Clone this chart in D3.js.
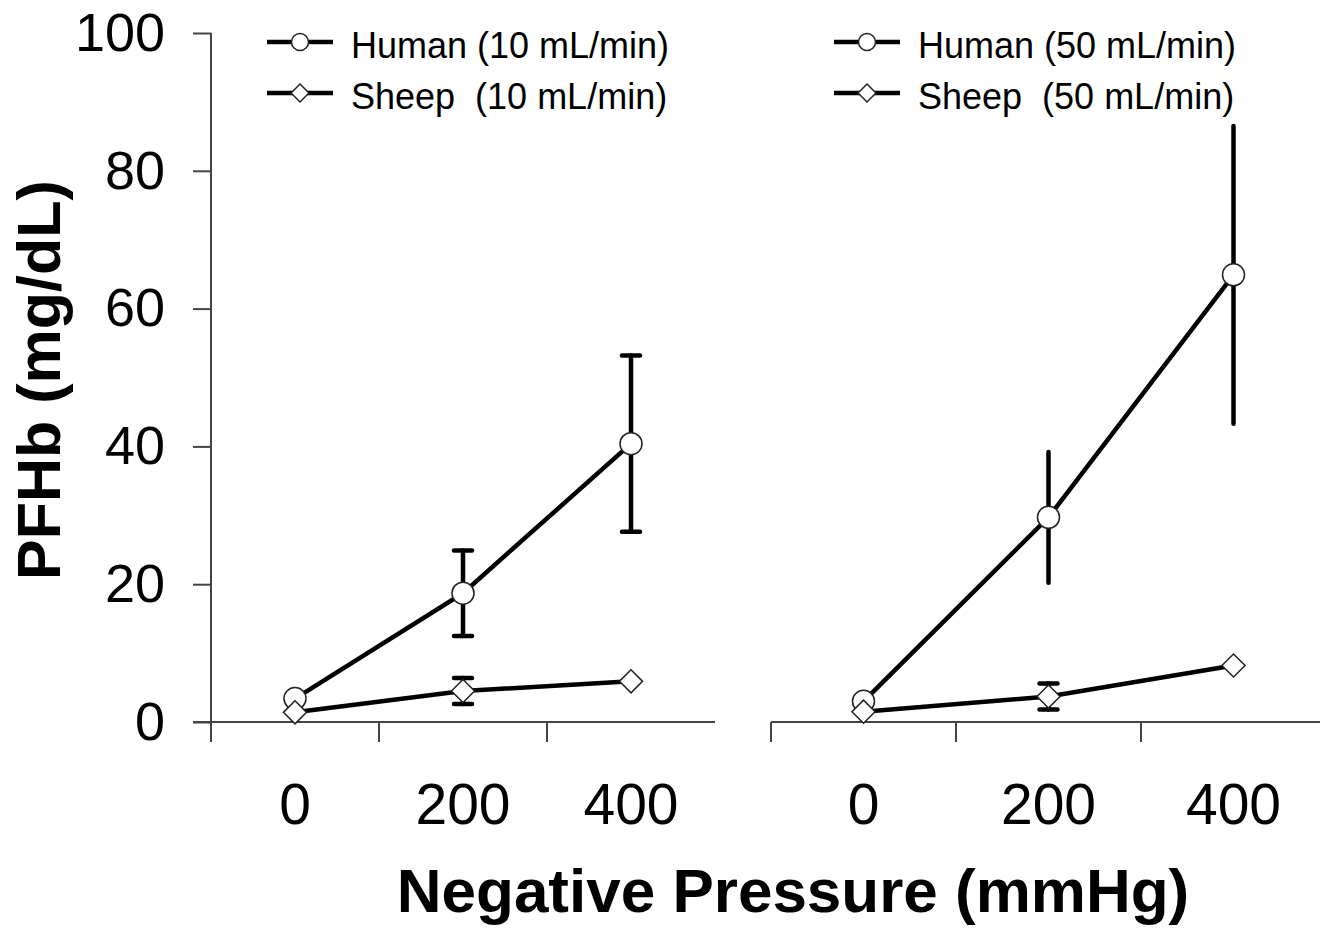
<!DOCTYPE html>
<html>
<head>
<meta charset="utf-8">
<script src="https://cdn.jsdelivr.net/npm/d3@7"></script>
<style>
  body { margin: 0; background: #fff; }
  text { font-family: "Liberation Sans", Arial, sans-serif; fill: #000; }
</style>
</head>
<body>
<div id="chart"></div>
<script>
const pressures = ["0", "200", "400"];
const yTicks = [0, 20, 40, 60, 80, 100];

const human10 = [3.4, 18.7, 40.4];
const human10Err = [0, 6.2, 12.8];
const sheep10 = [1.4, 4.5, 5.9];
const sheep10Err = [0, 1.9, 0];

const human50 = [3.0, 29.7, 64.9];
const human50Err = [0, 9.5, 21.6];
const sheep50 = [1.5, 3.7, 8.2];
const sheep50Err = [0, 1.9, 0];

const legendLeft = ["Human (10 mL/min)", "Sheep  (10 mL/min)"];
const legendRight = ["Human (50 mL/min)", "Sheep  (50 mL/min)"];

const width = 1339, height = 929;
const axisColor = "#444";

const svg = d3.select("#chart")
  .append("svg")
    .attr("width", width)
    .attr("height", height);

const y = d3.scaleLinear()
    .domain([0, 100])
    .range([722, 33]);

const xLeft = d3.scaleBand()
    .domain(pressures)
    .range([211, 715]);

const xRight = d3.scaleBand()
    .domain(pressures)
    .range([771, 1326]);

// y axis (left panel only)
const yAxis = svg.append("g")
    .attr("transform", "translate(211,0)")
    .call(d3.axisLeft(y).tickValues(yTicks).tickSize(18).tickPadding(28).tickSizeOuter(0));
yAxis.select(".domain").remove();
yAxis.selectAll(".tick line").attr("stroke", axisColor).attr("stroke-width", 2);
yAxis.selectAll(".tick text")
    .style("font-size", "54px")
    .attr("fill", "#000");

svg.append("line")
    .attr("x1", 211).attr("x2", 211)
    .attr("y1", y(100)).attr("y2", y(0) + 20)
    .attr("stroke", axisColor).attr("stroke-width", 2);

function drawXAxis(x, xStart, xEnd) {
    svg.append("line")
        .attr("x1", xStart).attr("x2", xEnd)
        .attr("y1", y(0)).attr("y2", y(0))
        .attr("stroke", axisColor).attr("stroke-width", 2);

    svg.selectAll(null)
        .data(pressures)
        .enter()
        .append("line")
        .attr("x1", d => x(d)).attr("x2", d => x(d))
        .attr("y1", y(0)).attr("y2", y(0) + 20)
        .attr("stroke", axisColor).attr("stroke-width", 2);

    const g = svg.append("g")
        .attr("transform", `translate(0,${y(0)})`)
        .call(d3.axisBottom(x).tickSize(0).tickPadding(62));
    g.select(".domain").remove();
    g.selectAll(".tick text")
        .style("font-size", "57px")
        .attr("fill", "#000");
}

drawXAxis(xLeft, 193, 715);
drawXAxis(xRight, 771, 1320);

function drawSeries(x, values, errs, shape, capped) {
    const pts = values.map((v, i) => ({ p: pressures[i], v: v, e: errs[i] }));
    const cx = d => x(d.p) + x.bandwidth() / 2;

    svg.append("path")
        .datum(pts)
        .attr("fill", "none")
        .attr("stroke", "#000")
        .attr("stroke-width", 4.5)
        .attr("d", d3.line().x(cx).y(d => y(d.v)));

    const withErr = pts.filter(d => d.e > 0);
    svg.selectAll(null)
        .data(withErr)
        .enter()
        .append("line")
        .attr("x1", cx).attr("x2", cx)
        .attr("y1", d => y(d.v + d.e)).attr("y2", d => y(d.v - d.e))
        .attr("stroke", "#000").attr("stroke-width", 4.5)
        .attr("stroke-linecap", "round");

    if (capped) {
        ["top", "bottom"].forEach(side => {
            svg.selectAll(null)
                .data(withErr)
                .enter()
                .append("line")
                .attr("x1", d => cx(d) - 9).attr("x2", d => cx(d) + 9)
                .attr("y1", d => y(side === "top" ? d.v + d.e : d.v - d.e))
                .attr("y2", d => y(side === "top" ? d.v + d.e : d.v - d.e))
                .attr("stroke", "#000").attr("stroke-width", 4.5)
                .attr("stroke-linecap", "round");
        });
    }

    return pts.map(d => ({ x: cx(d), y: y(d.v), shape: shape }));
}

function drawMarker(g, shape, size) {
    if (shape === "circle") {
        g.append("circle")
            .attr("r", size)
            .attr("fill", "#fff")
            .attr("stroke", "#222")
            .attr("stroke-width", 1.5);
    } else {
        const s = size * 1.05;
        g.append("path")
            .attr("d", `M0,${-s}L${s},0L0,${s}L${-s},0Z`)
            .attr("fill", "#fff")
            .attr("stroke", "#222")
            .attr("stroke-width", 1.5);
    }
}

const markers = [];
markers.push(...drawSeries(xLeft, human10, human10Err, "circle", true));
markers.push(...drawSeries(xLeft, sheep10, sheep10Err, "diamond", true));
markers.push(...drawSeries(xRight, human50, human50Err, "circle", false));
markers.push(...drawSeries(xRight, sheep50, sheep50Err, "diamond", true));

markers.forEach(m => {
    const g = svg.append("g").attr("transform", `translate(${m.x},${m.y})`);
    drawMarker(g, m.shape, 11);
});

// legends
function drawLegend(labels, x0, textX) {
    labels.forEach((label, i) => {
        const ly = 42 + i * 51;
        svg.append("line")
            .attr("x1", x0).attr("x2", x0 + 66)
            .attr("y1", ly).attr("y2", ly)
            .attr("stroke", "#000").attr("stroke-width", 4.5);
        const g = svg.append("g").attr("transform", `translate(${x0 + 33},${ly})`);
        drawMarker(g, i === 0 ? "circle" : "diamond", 8.5);
        svg.append("text")
            .attr("x", textX)
            .attr("y", ly + 16)
            .style("font-size", "36px")
            .style("white-space", "pre")
            .text(label);
    });
}

drawLegend(legendLeft, 267, 351);
drawLegend(legendRight, 834, 918);

// axis titles
svg.append("text")
    .attr("transform", "translate(60,380) rotate(-90)")
    .attr("text-anchor", "middle")
    .style("font-size", "61px")
    .style("font-weight", "bold")
    .text("PFHb (mg/dL)");

svg.append("text")
    .attr("x", 793)
    .attr("y", 912)
    .attr("text-anchor", "middle")
    .style("font-size", "62px")
    .style("font-weight", "bold")
    .text("Negative Pressure (mmHg)");
</script>
</body>
</html>
